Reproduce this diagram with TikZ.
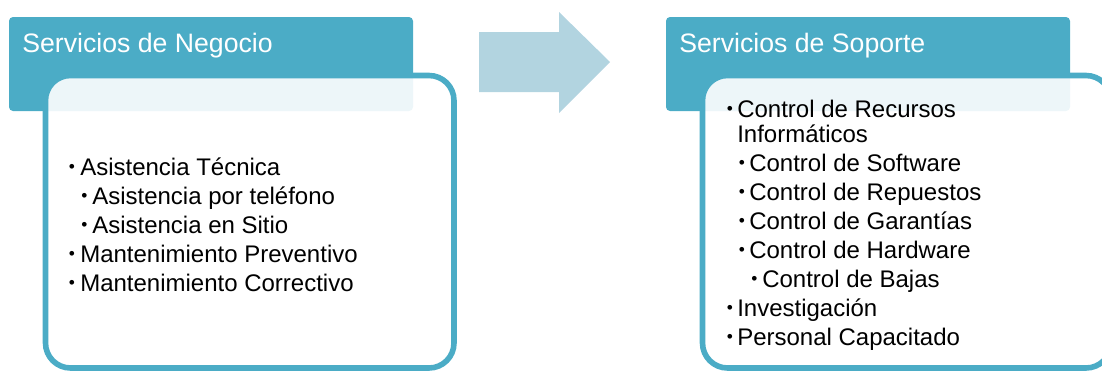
\documentclass[tikz,border=0pt]{standalone}
\usepackage{fontspec}
\setmainfont{Liberation Sans}
\definecolor{teal}{RGB}{75,172,198}
\definecolor{arrowblue}{RGB}{178,212,224}
\tikzset{
  header/.style={fill=teal, rounded corners=3pt},
  body/.style={draw=teal, line width=4.2pt, fill=white, fill opacity=0.9, rounded corners=18.75pt},
  htext/.style={anchor=base west, inner sep=0pt, text=white, font=\fontsize{20}{24}\selectfont},
  item/.style={anchor=base west, inner sep=0pt, text=black, font=\fontsize{18}{21}\selectfont},
  dot/.style={anchor=base west, inner sep=0pt, text=black, font=\fontsize{13}{15}\selectfont, yshift=1.6pt},
}
\begin{document}
\begin{tikzpicture}[x=0.75pt, y=-0.75pt]
\useasboundingbox (0,0) rectangle (1102,371);
\clip (0,0) rectangle (1102,371);
% left group
\path[header] (9,17) rectangle (413,111);
\path[body] (45.5,75.5) rectangle (454,368);
\node[htext] (hl) at (22,52) {Servicios de Negocio};
\node[dot] (bl1) at (68.5,175) {•};
\node[item] (tl1) at (80,175) {Asistencia Técnica};
\node[dot] (bl2) at (81,204) {•};
\node[item] (tl2) at (92,204) {Asistencia por teléfono};
\node[dot] (bl3) at (81,233) {•};
\node[item] (tl3) at (92,233) {Asistencia en Sitio};
\node[dot] (bl4) at (68.5,262) {•};
\node[item] (tl4) at (80,262) {Mantenimiento Preventivo};
\node[dot] (bl5) at (68.5,291) {•};
\node[item] (tl5) at (80,291) {Mantenimiento Correctivo};
% arrow
\fill[arrowblue] (479,32) -- (559,32) -- (559,12) -- (610,62) -- (559,113) -- (559,92) -- (479,92) -- cycle;
% right group
\path[header] (666,17) rectangle (1070,111);
\path[body] (702.5,75.5) rectangle (1111,368);
\node[htext] (hr) at (679,52) {Servicios de Soporte};
\node[dot] (br1) at (726.5,117) {•};
\node[item] (tr1) at (737,117) {Control de Recursos};
\node[item] (tr1b) at (737,142.5) {Informáticos};
\node[dot] (br2) at (738.5,171) {•};
\node[item] (tr2) at (749,171) {Control de Software};
\node[dot] (br3) at (738.5,200) {•};
\node[item] (tr3) at (749,200) {Control de Repuestos};
\node[dot] (br4) at (738.5,229) {•};
\node[item] (tr4) at (749,229) {Control de Garantías};
\node[dot] (br5) at (738.5,258) {•};
\node[item] (tr5) at (749,258) {Control de Hardware};
\node[dot] (br6) at (751,287) {•};
\node[item] (tr6) at (762,287) {Control de Bajas};
\node[dot] (br7) at (726.5,316) {•};
\node[item] (tr7) at (737,316) {Investigación};
\node[dot] (br8) at (726.5,345) {•};
\node[item] (tr8) at (737,345) {Personal Capacitado};
\end{tikzpicture}
\end{document}
